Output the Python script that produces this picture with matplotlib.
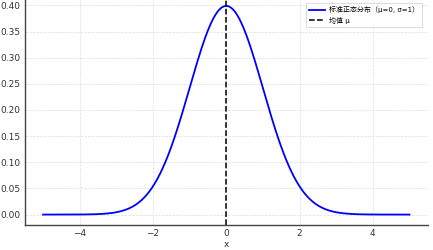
import numpy as np
import matplotlib.pyplot as plt

plt.rcParams['font.family'] = ['DejaVu Sans', 'Noto Sans CJK SC']

# data: standard normal pdf sampled on the plotted range
mu = 0
sigma = 1
x_start = -5
x_stop = 5
n_points = 1000
curve_label = '标准正态分布（μ=0, σ=1）'
mean_label = '均值 μ'
x_label = 'x'
y_ticks = [0.00, 0.05, 0.10, 0.15, 0.20, 0.25, 0.30, 0.35, 0.40]

x = np.linspace(x_start, x_stop, n_points)
y = np.exp(-0.5 * ((x - mu) / sigma) ** 2) / (sigma * np.sqrt(2 * np.pi))

fig = plt.figure(figsize=(4.33, 2.5), dpi=100)
ax = fig.add_axes([0.057, 0.1, 0.931, 0.918])

ax.plot(x, y, color='blue', lw=1.3, label=curve_label)
ax.axvline(mu, color='black', ls='--', lw=1.1, label=mean_label)

ax.set_yticks(y_ticks)
ax.set_yticklabels(['%.2f' % v for v in y_ticks])
ax.set_xlabel(x_label, fontsize=6.5, color='#333333', labelpad=1)
ax.tick_params(length=0, labelsize=6.5, labelcolor='#333333', pad=3)
ax.grid(True, ls='--', lw=0.5, color='#dddddd')

for side in ['top', 'right']:
    ax.spines[side].set_visible(False)
for side in ['left', 'bottom']:
    ax.spines[side].set_color('#444444')
    ax.spines[side].set_linewidth(1.0)

leg = ax.legend(loc='upper right', fontsize=5, frameon=True, fancybox=False,
                borderpad=0.5, handlelength=2.2, handletextpad=0.6,
                labelspacing=0.5, bbox_to_anchor=(0.995, 0.983))
leg.get_frame().set_edgecolor('#cccccc')
leg.get_frame().set_linewidth(0.6)

fig.savefig('out.png', dpi=100)
